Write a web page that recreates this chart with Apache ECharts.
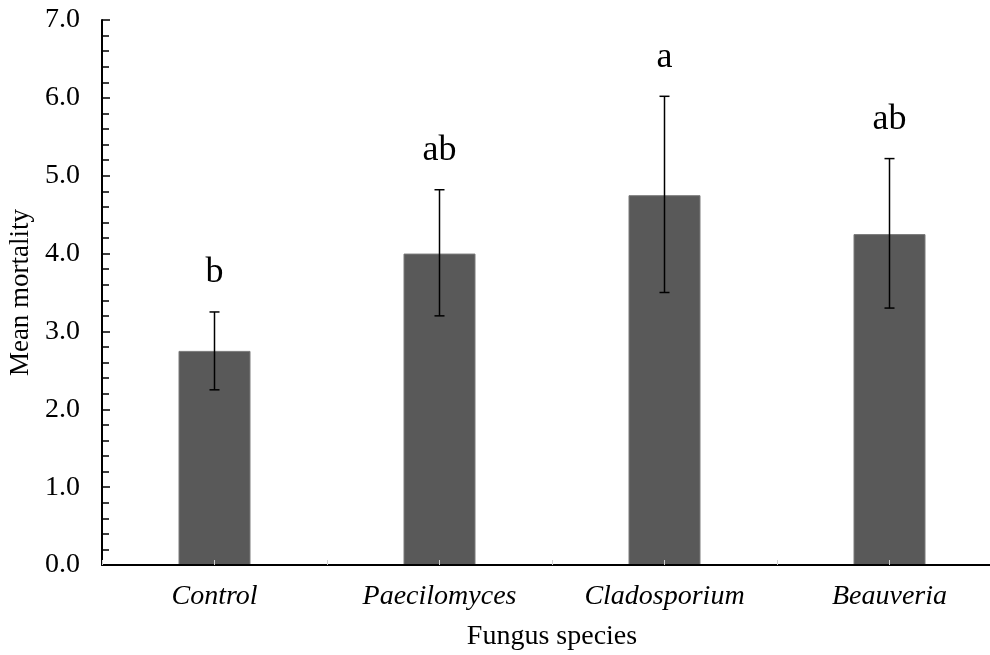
<!DOCTYPE html>
<html>
<head>
<meta charset="utf-8">
<script src="https://cdn.jsdelivr.net/npm/echarts@6/dist/echarts.min.js"></script>
<style>html,body{margin:0;padding:0;background:#fff;}#c{width:990px;height:655px;}</style>
</head>
<body>
<div id="c"></div>
<script>
const categories = ['Control', 'Paecilomyces', 'Cladosporium', 'Beauveria'];
const meanValues = [2.75, 4.0, 4.75, 4.25];
const errLow = [2.25, 3.2, 3.5, 3.3];
const errHigh = [3.25, 4.82, 6.02, 5.22];
const letters = ['b', 'ab', 'a', 'ab'];
const yTicks = [0, 1, 2, 3, 4, 5, 6, 7];

const FONT = '"Liberation Serif", "Times New Roman", serif';
const chart = echarts.init(document.getElementById('c'));

const errData = categories.map((c, i) => [i, errLow[i], errHigh[i], letters[i]]);

chart.setOption({
  animation: false,
  backgroundColor: '#fff',
  grid: { left: 102, top: 20, width: 900, height: 545, containLabel: false, outerBoundsMode: 'none' },
  xAxis: [{
    type: 'category',
    data: categories,
    z: 10,
    axisLine: { show: true, lineStyle: { color: '#000', width: 2 } },
    axisTick: { show: true, inside: true, length: 5, lineStyle: { color: '#d0d0d0', width: 1 } },
    axisLabel: { color: '#000', fontFamily: FONT, fontSize: 28, fontStyle: 'italic', margin: 18 },
    name: 'Fungus species',
    nameLocation: 'middle',
    nameGap: 58,
    nameTextStyle: { color: '#000', fontFamily: FONT, fontSize: 28 }
  }, {
    type: 'category',
    data: categories,
    position: 'bottom',
    z: 10,
    axisLine: { show: false },
    axisTick: { show: true, inside: true, alignWithLabel: true, length: 5, lineStyle: { color: '#d0d0d0', width: 1 } },
    axisLabel: { show: false }
  }],
  yAxis: {
    type: 'value',
    min: yTicks[0],
    max: yTicks[yTicks.length - 1],
    interval: 1,
    axisLine: { show: true, lineStyle: { color: '#000', width: 2 } },
    axisTick: { show: true, inside: true, length: 8, lineStyle: { color: '#000', width: 1.5 } },
    minorTick: { show: true, splitNumber: 5, length: 7, lineStyle: { color: '#000', width: 1.5 } },
    splitLine: { show: false },
    axisLabel: { color: '#000', fontFamily: FONT, fontSize: 28, margin: 22, formatter: v => v.toFixed(1) },
    name: 'Mean mortality',
    nameLocation: 'middle',
    nameGap: 64,
    nameTextStyle: { color: '#000', fontFamily: FONT, fontSize: 27 }
  },
  series: [{
    type: 'bar',
    data: meanValues,
    barWidth: 72,
    itemStyle: { color: '#595959', borderColor: '#7a7a7a', borderWidth: 1 }
  }, {
    type: 'custom',
    z: 5,
    data: errData,
    renderItem: function (params, api) {
      const x = api.coord([api.value(0), 0])[0];
      const yLow = api.coord([api.value(0), api.value(1)])[1];
      const yHigh = api.coord([api.value(0), api.value(2)])[1];
      const cap = 5;
      const style = { stroke: '#000', lineWidth: 1.5 };
      return {
        type: 'group',
        children: [
          { type: 'line', shape: { x1: x, y1: yLow, x2: x, y2: yHigh }, style: style },
          { type: 'line', shape: { x1: x - cap, y1: yLow, x2: x + cap, y2: yLow }, style: style },
          { type: 'line', shape: { x1: x - cap, y1: yHigh, x2: x + cap, y2: yHigh }, style: style },
          { type: 'text', style: { text: letters[params.dataIndex], x: x, y: yHigh - 21, textAlign: 'center', textVerticalAlign: 'bottom', fill: '#000', font: '36px ' + FONT } }
        ]
      };
    }
  }]
});
</script>
</body>
</html>
